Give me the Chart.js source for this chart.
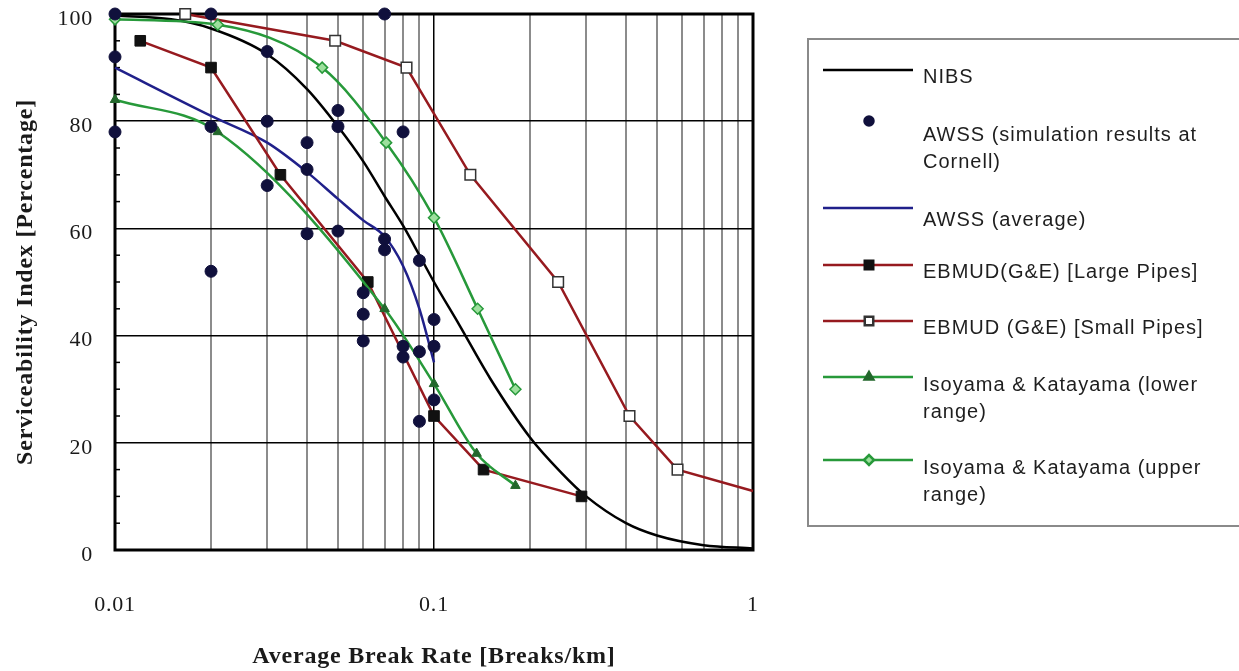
<!DOCTYPE html>
<html>
<head>
<meta charset="utf-8">
<title>Serviceability Index vs Average Break Rate</title>
<script src="https://cdn.jsdelivr.net/npm/chart.js@4.4.1/dist/chart.umd.min.js"></script>
<style>
  html, body { margin: 0; padding: 0; background: #fff; }
  #wrap { width: 1239px; height: 671px; }
</style>
</head>
<body>
<div id="wrap"><canvas id="chart" width="1239" height="671"></canvas></div>
<script>
// ---- data ----
const nibsX = [0.01, 0.015, 0.02, 0.03, 0.04, 0.05, 0.06, 0.07, 0.08, 0.09, 0.1, 0.12, 0.15, 0.2, 0.25, 0.3, 0.4, 0.5, 0.7, 1];
const nibsY = [99.7, 99, 97.3, 92.5, 86, 79, 72.5, 66, 60.5, 55, 50, 42, 32, 21, 14.5, 10, 5, 2.7, 0.9, 0.3];

const awssX = [0.01, 0.01, 0.01, 0.02, 0.02, 0.02, 0.03, 0.03, 0.03, 0.04, 0.04, 0.04, 0.05, 0.05, 0.05,
               0.06, 0.06, 0.06, 0.07, 0.07, 0.07, 0.08, 0.08, 0.08, 0.09, 0.09, 0.09, 0.1, 0.1, 0.1];
const awssY = [100, 92, 78, 100, 79, 52, 93, 80, 68, 76, 71, 59, 82, 79, 59.5,
               48, 44, 39, 100, 58, 56, 78, 38, 36, 54, 37, 24, 43, 38, 28];

const avgX = [0.01, 0.02, 0.03, 0.04, 0.05, 0.06, 0.07, 0.08, 0.09, 0.1];
const avgY = [90, 81, 76, 70.5, 65.5, 61.5, 58.5, 53, 45, 35];

const largeX = [0.012, 0.02, 0.033, 0.062, 0.1, 0.143, 0.29];
const largeY = [95, 90, 70, 50, 25, 15, 10];

const smallX = [0.0166, 0.049, 0.082, 0.13, 0.245, 0.41, 0.58, 1];
const smallY = [100, 95, 90, 70, 50, 25, 15, 11];

const lowerX = [0.01, 0.021, 0.07, 0.1, 0.136, 0.18];
const lowerY = [84, 78, 45, 31, 18, 12];

const upperX = [0.01, 0.021, 0.0446, 0.0708, 0.1, 0.137, 0.18];
const upperY = [99, 98, 90, 76, 62, 45, 30];

const xTicks = [0.01, 0.02, 0.03, 0.04, 0.05, 0.06, 0.07, 0.08, 0.09,
                0.1, 0.2, 0.3, 0.4, 0.5, 0.6, 0.7, 0.8, 0.9, 1];
const xLabels = ["0.01", "0.1", "1"];
const yTicks = [0, 20, 40, 60, 80, 100];
const yMinor = [5, 10, 15, 25, 30, 35, 45, 50, 55, 65, 70, 75, 85, 90, 95];

const legendLabels = [
  ["NIBS"],
  ["AWSS (simulation results at", "Cornell)"],
  ["AWSS (average)"],
  ["EBMUD(G&E) [Large Pipes]"],
  ["EBMUD (G&E) [Small Pipes]"],
  ["Isoyama & Katayama (lower", "range)"],
  ["Isoyama & Katayama (upper", "range)"]
];

const pts = (xs, ys) => xs.map((x, i) => ({ x: x, y: ys[i] }));

const serif = '"Liberation Serif", "Times New Roman", serif';
const sans = '"Liberation Sans", Arial, sans-serif';
const ebmudRed = "#961a1f";
const green = "#27993a";

// keep the plot box where the picture has it (no label overflow padding)
const noOverflow = s => {
  s.paddingTop = 0;
  s.paddingBottom = 0;
  s.paddingLeft = 0;
  s.paddingRight = 0;
};

// plot frame + small inner ticks on the y axis
const frame = {
  id: "frame",
  beforeDraw(chart) {
    chart.ctx.letterSpacing = "0.8px";
  },
  beforeDatasetsDraw(chart) {
    const { ctx, chartArea: a } = chart;
    const y = chart.scales.y;
    ctx.save();
    ctx.strokeStyle = "#000";
    ctx.lineWidth = 1.5;
    yMinor.forEach(v => {
      const py = y.getPixelForValue(v);
      ctx.beginPath();
      ctx.moveTo(a.left, py);
      ctx.lineTo(a.left + 5, py);
      ctx.stroke();
    });
    ctx.lineWidth = 3;
    ctx.strokeRect(a.left, a.top, a.right - a.left, a.bottom - a.top);
    ctx.restore();
  }
};

// boxed legend on the right
const sideLegend = {
  id: "sideLegend",
  afterDraw(chart) {
    const ctx = chart.ctx;
    const sampleY = [70, 121, 208, 265, 321, 377, 460];
    const textY = [77, 135, 220, 272, 328, 385, 468];
    ctx.save();
    ctx.strokeStyle = "#8a8a8a";
    ctx.lineWidth = 2;
    ctx.strokeRect(808, 39, 440, 487);
    chart.data.datasets.forEach((ds, i) => {
      const y = sampleY[i];
      if (ds.showLine !== false) {
        ctx.strokeStyle = ds.borderColor;
        ctx.lineWidth = ds.borderWidth;
        ctx.beginPath();
        ctx.moveTo(823, y);
        ctx.lineTo(913, y);
        ctx.stroke();
      }
      if (ds.legendMarker) {
        ctx.fillStyle = ds.pointBackgroundColor;
        ctx.strokeStyle = ds.pointBorderColor;
        Chart.helpers.drawPoint(ctx, {
          pointStyle: ds.pointStyle, rotation: 0,
          radius: ds.legendMarker, borderWidth: 1.5
        }, 869, y);
      }
      ctx.fillStyle = "#1e1e1e";
      ctx.font = "20px " + sans;
      ctx.letterSpacing = "1px";
      ctx.textBaseline = "middle";
      legendLabels[i].forEach((line, j) => {
        ctx.fillText(line, 923, textY[i] + j * 27);
      });
    });
    ctx.restore();
  }
};

new Chart(document.getElementById("chart"), {
  type: "line",
  data: {
    datasets: [
      {
        label: legendLabels[0].join(" "),
        data: pts(nibsX, nibsY),
        borderColor: "#000", borderWidth: 2.5,
        pointRadius: 0, cubicInterpolationMode: "monotone",
        order: 3, clip: false
      },
      {
        label: legendLabels[1].join(" "),
        data: pts(awssX, awssY),
        showLine: false,
        pointStyle: "circle", pointRadius: 6,
        pointBackgroundColor: "#10103c", pointBorderColor: "#10103c",
        borderColor: "#10103c",
        legendMarker: 4.5, order: 0, clip: false
      },
      {
        label: legendLabels[2].join(" "),
        data: pts(avgX, avgY),
        borderColor: "#20208a", borderWidth: 2.5,
        pointRadius: 0, cubicInterpolationMode: "monotone",
        order: 4, clip: false
      },
      {
        label: legendLabels[3].join(" "),
        data: pts(largeX, largeY),
        borderColor: ebmudRed, borderWidth: 2.5, tension: 0,
        pointStyle: "rect", pointRadius: 7.5,
        pointBackgroundColor: "#111", pointBorderColor: "#111", pointBorderWidth: 1,
        legendMarker: 6, order: 2, clip: false
      },
      {
        label: legendLabels[4].join(" "),
        data: pts(smallX, smallY),
        borderColor: ebmudRed, borderWidth: 2.5, tension: 0,
        pointStyle: "rect",
        pointRadius: c => (c.parsed && c.parsed.x >= 1 ? 0 : 7.5),
        pointBackgroundColor: "#fff", pointBorderColor: "#333", pointBorderWidth: 1.5,
        legendMarker: 6, order: 2, clip: false
      },
      {
        label: legendLabels[5].join(" "),
        data: pts(lowerX, lowerY),
        borderColor: green, borderWidth: 2.5, cubicInterpolationMode: "monotone",
        pointStyle: "triangle", pointRadius: 5.5,
        pointBackgroundColor: "#23672c", pointBorderColor: "#23672c", pointBorderWidth: 1,
        legendMarker: 5, order: 1, clip: false
      },
      {
        label: legendLabels[6].join(" "),
        data: pts(upperX, upperY),
        borderColor: green, borderWidth: 2.5, cubicInterpolationMode: "monotone",
        pointStyle: "rectRot", pointRadius: 5.5,
        pointBackgroundColor: "#9de09d", pointBorderColor: green, pointBorderWidth: 1.5,
        legendMarker: 5, order: 1, clip: false
      }
    ]
  },
  options: {
    responsive: false,
    animation: false,
    layout: { padding: { top: 14, right: 486, left: 0, bottom: 0 } },
    plugins: {
      legend: { display: false },
      tooltip: { enabled: false }
    },
    scales: {
      x: {
        type: "logarithmic",
        min: 0.01, max: 1,
        afterBuildTicks: s => { s.ticks = xTicks.map(v => ({ value: v })); },
        afterFit: s => { s.height = 121; noOverflow(s); },
        ticks: {
          autoSkip: false, maxRotation: 0,
          padding: 42, color: "#1a1a1a",
          font: { family: serif, size: 22 },
          callback: v => {
            const lab = xLabels.find(t => Math.abs(parseFloat(t) - v) < 1e-9);
            return lab || "";
          }
        },
        grid: {
          drawTicks: false,
          color: c => (c.tick && Math.abs(c.tick.value - 0.1) < 1e-9 ? "#000" : "#8c8c8c"),
          lineWidth: c => (c.tick && Math.abs(c.tick.value - 0.1) < 1e-9 ? 1.5 : 2)
        },
        border: { display: false },
        title: {
          display: true,
          text: "Average Break Rate [Breaks/km]",
          color: "#1a1a1a",
          font: { family: serif, size: 24, weight: "bold" },
          padding: { top: 0, bottom: 0 }
        }
      },
      y: {
        min: 0, max: 100,
        afterBuildTicks: s => { s.ticks = yTicks.map(v => ({ value: v })); },
        afterFit: s => { s.width = 115; noOverflow(s); },
        ticks: {
          padding: 22, color: "#1a1a1a", labelOffset: 5,
          font: { family: serif, size: 22 }
        },
        grid: { drawTicks: false, color: "#000", lineWidth: 1.5 },
        border: { display: false },
        title: {
          display: true,
          text: "Serviceability Index [Percentage]",
          color: "#1a1a1a",
          font: { family: serif, size: 24, weight: "bold" },
          padding: { top: 11, bottom: 0 }
        }
      }
    }
  },
  plugins: [frame, sideLegend]
});
</script>
</body>
</html>
